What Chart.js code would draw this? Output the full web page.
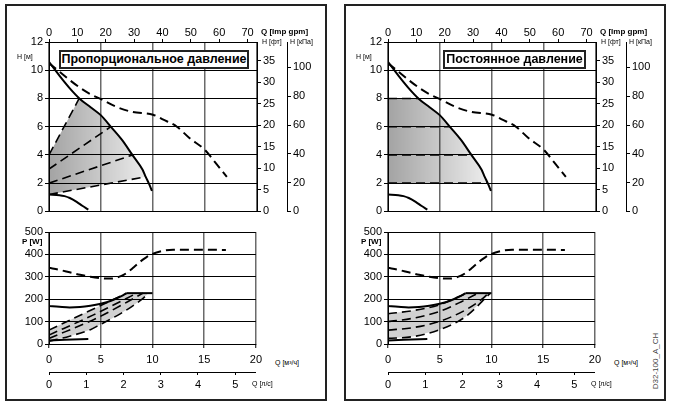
<!DOCTYPE html>
<html>
<head>
<meta charset="utf-8">
<script src="https://cdn.jsdelivr.net/npm/chart.js@4/dist/chart.umd.min.js"></script>
<style>
  html, body { margin: 0; padding: 0; background: #fff; }
  body { width: 694px; height: 407px; position: relative; overflow: hidden;
         font-family: 'Liberation Sans', Arial, sans-serif; }
  .panel { position: absolute; top: 4px; width: 322px; height: 397px;
           border: 2px solid #222; box-sizing: border-box; }
  canvas { position: absolute; }
  .lbl { position: absolute; font-size: 7px; line-height: 8px; color: #000; white-space: nowrap; }
  .b { font-weight: bold; font-size: 8px; }
  .title { position: absolute; top: 50px; height: 19px; box-sizing: border-box;
           border: 2px solid #222; background: #fff; font-weight: bold; font-size: 12.5px;
           line-height: 15px; text-align: center; white-space: nowrap; }
  .code { position: absolute; left: 655px; top: 361px; font-size: 8px; color: #444;
          white-space: nowrap; transform: translate(-50%, -50%) rotate(-90deg); }
</style>
</head>
<body>
<div class="panel" style="left:5px"></div>
<div class="panel" style="left:344px"></div>

<canvas id="headL" width="314" height="198" style="left:8px;top:22px"></canvas>
<canvas id="powerL" width="259" height="173" style="left:8px;top:222px"></canvas>
<canvas id="headR" width="314" height="198" style="left:347px;top:22px"></canvas>
<canvas id="powerR" width="259" height="173" style="left:347px;top:222px"></canvas>

<div class="title" style="left:59px;width:190px">Пропорциональное давление</div>
<div class="title" style="left:443px;width:143px">Постоянное давление</div>

<div class="lbl" style="left:17px;top:53px">H [м]</div>
<div class="lbl b" style="left:261px;top:28px">Q [Imp gpm]</div>
<div class="lbl" style="left:262px;top:38px">H [фт]</div>
<div class="lbl" style="left:290px;top:38px">H [кПа]</div>
<div class="lbl b" style="left:22px;top:238px">P [W]</div>
<div class="lbl" style="left:275px;top:359px">Q [м³/ч]</div>
<div class="lbl" style="left:252px;top:380px">Q [л/с]</div>

<div class="lbl" style="left:356px;top:53px">H [м]</div>
<div class="lbl b" style="left:600px;top:28px">Q [Imp gpm]</div>
<div class="lbl" style="left:601px;top:38px">H [фт]</div>
<div class="lbl" style="left:629px;top:38px">H [кПа]</div>
<div class="lbl b" style="left:361px;top:238px">P [W]</div>
<div class="lbl" style="left:614px;top:359px">Q [м³/ч]</div>
<div class="lbl" style="left:591px;top:380px">Q [л/с]</div>

<div class="code">D32-100_A_CH</div>

<script>
// ---- data: Q [m³/h] vs H [m] ----
const headMax = [[0, 10.6], [1, 9.62], [2, 8.72], [3, 7.95], [4, 7.38], [5, 6.8], [6, 5.95],
                 [7, 5.08], [8, 4.02], [9, 2.95], [9.3, 2.45], [9.6, 1.98], [9.9, 1.45]];
const headMaxDashed = [[0, 10.5], [1, 9.9], [2, 9.3], [3, 8.75], [4, 8.3], [5, 7.95], [6.5, 7.4],
                       [8, 7.05], [10, 6.85], [11, 6.5], [12.3, 6.0], [13.5, 5.2], [15, 4.35],
                       [16, 3.45], [17.1, 2.45]];
const headMin = [[0, 1.2], [1, 1.15], [1.5, 1.08], [2, 0.95], [2.66, 0.68], [3.2, 0.4], [3.78, 0.12]];
const propHeadLines = [
  [[0, 4], [2.9, 8.0]],
  [[0, 3], [5.95, 6.0]],
  [[0, 2], [8.05, 4.0]],
  [[0, 1.2], [9.3, 2.45]],
];
const constHeadLines = [
  [[0, 8], [2.94, 8]],
  [[0, 6], [5.95, 6]],
  [[0, 4], [8.05, 4]],
  [[0, 2], [9.6, 2]],
];

// ---- data: Q [m³/h] vs P [W] ----
const powerMaxDashed = [[0, 340], [1, 331], [2, 320], [3, 309], [4, 300], [5, 294], [6, 292],
                        [7, 304], [7.6, 320], [8.2, 343], [8.8, 367], [9.4, 387], [10, 402],
                        [11, 416], [12, 421], [14, 421], [17.1, 420]];
const powerMax = [[0, 170], [1, 166], [2, 163], [3, 165], [4, 171], [5, 180], [6, 193],
                  [6.5, 203], [7, 214], [7.5, 227]];
const powerMaxCap = [[7.5, 227], [10, 227]];
const powerMin = [[0, 16], [1.5, 19], [3.8, 22]];
const propPowerLines = [
  [[0, 62], [7.5, 227]],
  [[0, 40], [4.3, 130], [8.5, 227]],
  [[0, 25], [4.6, 115], [9.1, 227]],
  [[0, 12], [2, 35], [4, 64], [5, 88], [6, 112], [7, 138], [8, 167], [9, 200], [9.6, 227]],
];
const constPowerLines = [
  [[0, 135], [2.4, 149], [4.9, 174], [6.8, 211], [7.6, 227]],
  [[0, 100], [2.4, 115], [4.9, 144], [7.1, 189], [8.7, 227]],
  [[0, 62], [2.4, 73], [4.9, 100], [7.5, 152], [9.2, 205], [9.7, 227]],
  [[0, 25], [2.4, 33], [4.9, 62], [7.5, 122], [9.9, 227]],
];

// ---- tick labels ----
const qTicks = [0, 5, 10, 15, 20];
const gpmTicks = [0, 10, 20, 30, 40, 50, 60, 70];
const lsTicks = [0, 1, 2, 3, 4, 5];
const mTicks = [0, 2, 4, 6, 8, 10, 12];
const ftTicks = [0, 5, 10, 15, 20, 25, 30, 35];
const kpaTicks = [0, 20, 40, 60, 80, 100];
const pTicks = [0, 100, 200, 300, 400, 500];

// unit conversions for the secondary axes
const Q_MAX = 20, H_MAX = 12;
const GPM_MAX = Q_MAX * 1000 / 4.54609 / 60;
const LS_MAX = Q_MAX / 3.6;
const FT_MAX = H_MAX / 0.3048;
const KPA_MAX = H_MAX * 9.80665;

Chart.defaults.font.family = "'Liberation Sans', Arial, sans-serif";
Chart.defaults.font.size = 11;
Chart.defaults.color = '#000';

const GRID_V = '#6a6a6a';

const pts = arr => arr.map(([x, y]) => ({ x, y }));
const ticksFrom = values => scale => { scale.ticks = values.map(v => ({ value: v })); };
const fix = size => scale => { if (scale.isHorizontal()) scale.height = size; else scale.width = size; };

function curve(data, dashed, width) {
  return {
    data: pts(data), borderColor: '#000', borderWidth: width || 2,
    borderDash: dashed ? [9, 5] : [], pointRadius: 0, fill: false,
    cubicInterpolationMode: 'monotone',
  };
}

function shadeGradient(ctx) {
  const chart = ctx.chart;
  if (!chart.chartArea) return 'rgba(0,0,0,0.25)';
  const x = chart.scales.x;
  const g = chart.ctx.createLinearGradient(x.getPixelForValue(0), 0, x.getPixelForValue(10), 0);
  g.addColorStop(0, 'rgba(0,0,0,0.36)');
  g.addColorStop(1, 'rgba(0,0,0,0.06)');
  return g;
}

function shade(top, bottom, color) {
  return [
    { data: pts(top), borderWidth: 0, borderColor: 'transparent', pointRadius: 0,
      backgroundColor: color, fill: '+1' },
    { data: pts(bottom), borderWidth: 0, borderColor: 'transparent', pointRadius: 0, fill: false },
  ];
}

function sideAxis(max, ticks, width, weight) {
  return {
    type: 'linear', position: 'right', min: 0, max, weight,
    afterBuildTicks: ticksFrom(ticks), afterFit: fix(width),
    ticks: { padding: 2 },
    grid: { drawOnChartArea: false, tickLength: 4, tickColor: '#000' },
    border: { color: '#000' },
  };
}

const baseOptions = {
  responsive: false, maintainAspectRatio: false, animation: false,
  plugins: { legend: { display: false }, tooltip: { enabled: false },
             filler: { drawTime: 'beforeDatasetsDraw' } },
};

function headChart(id, lines, shadeTop, shadeBottom) {
  new Chart(document.getElementById(id), {
    type: 'line',
    data: {
      datasets: [
        curve(headMax, false, 2),
        curve(headMaxDashed, true, 2),
        curve(headMin, false, 2),
        ...lines.map(l => curve(l, true, 1.6)),
        ...shade(shadeTop, shadeBottom, shadeGradient),
      ],
    },
    options: {
      ...baseOptions,
      scales: {
        x: {
          type: 'linear', position: 'bottom', min: 0, max: Q_MAX,
          afterBuildTicks: ticksFrom(qTicks), afterFit: fix(8),
          ticks: { display: false },
          grid: { color: GRID_V, lineWidth: 1.5, drawTicks: false },
          border: { color: '#000' },
        },
        gpm: {
          type: 'linear', position: 'top', min: 0, max: GPM_MAX,
          afterBuildTicks: ticksFrom(gpmTicks), afterFit: fix(20),
          ticks: { padding: -1 },
          grid: { drawOnChartArea: false, tickLength: 3, tickColor: '#000' },
          border: { color: '#000' },
        },
        y: {
          type: 'linear', position: 'left', min: 0, max: H_MAX,
          afterBuildTicks: ticksFrom(mTicks), afterFit: fix(41),
          ticks: { padding: 2 },
          grid: { color: '#000', lineWidth: 1, tickLength: 4 },
          border: { color: '#000' },
        },
        ft: sideAxis(FT_MAX, ftTicks, 30, 0),
        kpa: sideAxis(KPA_MAX, kpaTicks, 35, 1),
      },
    },
  });
}

function powerChart(id, lines, shadeTop, shadeBottom) {
  new Chart(document.getElementById(id), {
    type: 'line',
    data: {
      datasets: [
        curve(powerMaxDashed, true, 2),
        curve(powerMax, false, 2),
        curve(powerMaxCap, false, 2),
        curve(powerMin, false, 2),
        ...lines.map(l => curve(l, true, 1.6)),
        ...shade(shadeTop, shadeBottom, 'rgba(0,0,0,0.18)'),
      ],
    },
    options: {
      ...baseOptions,
      layout: { padding: { top: 10, right: 10 } },
      scales: {
        x: {
          type: 'linear', position: 'bottom', min: 0, max: Q_MAX, weight: 0,
          afterBuildTicks: ticksFrom(qTicks), afterFit: fix(28),
          ticks: { padding: 5 },
          grid: { color: GRID_V, lineWidth: 1.5, tickLength: 4, tickColor: '#000', tickWidth: 1 },
          border: { color: '#000' },
        },
        ls: {
          type: 'linear', position: 'bottom', min: 0, max: LS_MAX, weight: 1,
          afterBuildTicks: ticksFrom(lsTicks), afterFit: fix(23),
          ticks: { padding: 3 },
          grid: { drawOnChartArea: false, tickLength: 3, tickColor: '#000' },
          border: { color: '#000' },
        },
        y: {
          type: 'linear', position: 'left', min: 0, max: 500,
          afterBuildTicks: ticksFrom(pTicks), afterFit: fix(41),
          ticks: { padding: 2 },
          grid: { color: '#000', lineWidth: 1, tickLength: 4 },
          border: { color: '#000' },
        },
      },
    },
  });
}

// shaded operating areas, built from the curves above
const pTop = propHeadLines[0], pBot = propHeadLines[3];
const propShadeTop = pTop.concat(
  headMax.filter(p => p[0] > pTop[1][0] && p[0] < pBot[1][0]), [pBot[1]]);
const cTop = constHeadLines[0], cBot = constHeadLines[3];
const constShadeTop = cTop.concat(
  headMax.filter(p => p[0] > cTop[1][0] && p[0] < cBot[1][0]), [cBot[1]]);

headChart('headL', propHeadLines, propShadeTop, pBot);
headChart('headR', constHeadLines, constShadeTop, cBot);

const ppBot = propPowerLines[3], cpBot = constPowerLines[3];
powerChart('powerL', propPowerLines, propPowerLines[0].concat([ppBot[ppBot.length - 1]]), ppBot);
powerChart('powerR', constPowerLines, constPowerLines[0].concat([cpBot[cpBot.length - 1]]), cpBot);
</script>
</body>
</html>
